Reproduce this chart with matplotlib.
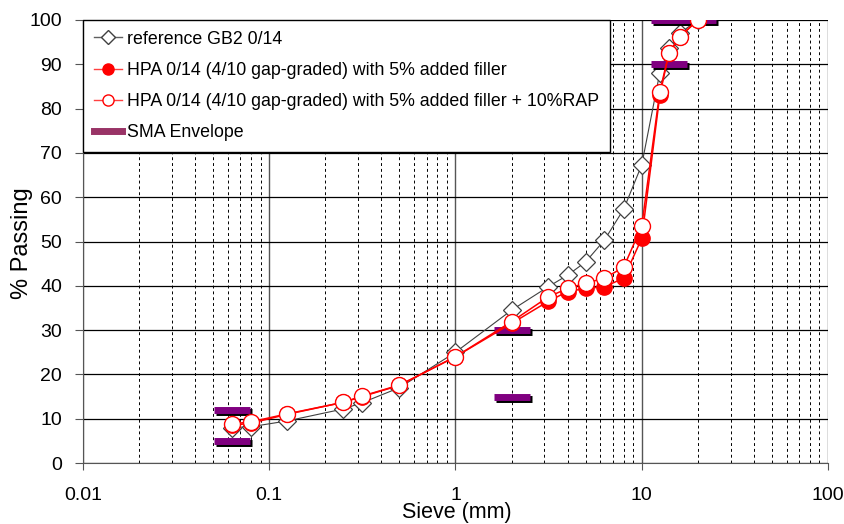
import numpy as np
import matplotlib
matplotlib.use('Agg')
from matplotlib import pyplot as plt
from matplotlib import ticker
from matplotlib import patheffects as pe
from matplotlib.lines import Line2D

plt.rcParams['font.family'] = ['Liberation Sans', 'DejaVu Sans']

# sieve sizes in mm
sieve = [0.063, 0.08, 0.125, 0.25, 0.315, 0.5, 1, 2, 3.15, 4, 5, 6.3, 8, 10, 12.5, 14, 16, 20]
ref_gb2 = [8, 8.2, 9.5, 12.2, 13.6, 17, 25, 34.5, 39.8, 42.4, 45.4, 50.3, 57.3, 67.3, 88.1, 93.6, 97, 100]
hpa = [8.5, 9, 11, 13.7, 15, 17.5, 24, 31.5, 36.5, 38.7, 39.4, 39.8, 41.7, 50.7, 83, 92.5, 96.2, 100]
hpa_rap = [8.8, 9.3, 11.1, 13.7, 15.1, 17.6, 24, 31.9, 37.5, 39.4, 40.6, 41.7, 44.2, 53.5, 83.8, 92.6, 96.2, 100]

# SMA envelope limits
env_sieve = [0.063, 0.063, 2, 2, 14, 14, 20]
env_pass = [5, 12, 15, 30, 90, 100, 100]

x_ticks = [0.01, 0.1, 1, 10, 100]
x_labels = ['0.01', '0.1', '1', '10', '100']
y_ticks = list(range(0, 101, 10))

fig = plt.figure(figsize=(8.45, 5.24), dpi=100)
ax = fig.add_axes([83/845, 1-463/524, 745/845, 443/524])

ax.plot(sieve, ref_gb2, color='#404040', lw=0.8, marker='D', ms=9,
        mfc='white', mec='#404040', mew=0.9, zorder=3)
ax.plot(env_sieve, env_pass, ls='none', marker='_', ms=26, mew=5,
        color='#800080', zorder=4,
        path_effects=[pe.SimpleLineShadow(offset=(1.5, -1.5), shadow_color='black', alpha=1),
                      pe.Normal()])
ax.plot(sieve, hpa, color='red', lw=1.1, marker='o', ms=11,
        mfc='red', mec='red', mew=1, zorder=5)
ax.plot(sieve, hpa_rap, color='red', lw=1.1, marker='o', ms=11.5,
        mfc='white', mec='red', mew=1, zorder=6)

ax.set_xscale('log')
ax.set_xlim(0.01, 100)
ax.set_ylim(0, 100)
ax.xaxis.set_major_locator(ticker.FixedLocator(x_ticks))
ax.xaxis.set_major_formatter(ticker.FixedFormatter(x_labels))
ax.xaxis.set_minor_locator(ticker.LogLocator(base=10, subs=np.arange(2, 10)))
ax.xaxis.set_minor_formatter(ticker.NullFormatter())
ax.set_yticks(y_ticks)

ax.grid(True, which='major', axis='y', color='black', lw=0.9)
ax.grid(True, which='major', axis='x', color='#555555', lw=1)
ax.grid(True, which='minor', axis='x', color='black', lw=0.7, ls=(0, (3, 3)))
ax.set_axisbelow(True)

for s in ['top', 'right']:
    ax.spines[s].set_visible(False)
for s in ['left', 'bottom']:
    ax.spines[s].set_color('#555555')

ax.tick_params(axis='x', which='major', direction='out', length=5, pad=12, labelsize=14, color='#555555')
ax.tick_params(axis='x', which='minor', length=0)
ax.tick_params(axis='y', direction='out', length=6, pad=9, labelsize=14, color='#555555')

fig.text(457/845, 1-502/524, 'Sieve (mm)', ha='center', va='top', fontsize=15.5)
fig.text(22/845, 1-243/524, '% Passing', ha='center', va='center', rotation=90, fontsize=17)

handles = [
    Line2D([], [], color='#606060', lw=1, marker='D', ms=7, mfc='white', mec='#404040'),
    Line2D([], [], color='#ff4040', lw=1, marker='o', ms=8, mfc='red', mec='red'),
    Line2D([], [], color='#ff4040', lw=1, marker='o', ms=8, mfc='white', mec='red'),
    Line2D([], [], color='#993366', lw=5),
]
labels = ['reference GB2 0/14',
          'HPA 0/14 (4/10 gap-graded) with 5% added filler',
          'HPA 0/14 (4/10 gap-graded) with 5% added filler + 10%RAP',
          'SMA Envelope']
leg = ax.legend(handles, labels, loc='upper left', bbox_to_anchor=(0, 1), borderaxespad=0,
                fontsize=12.8, fancybox=False, framealpha=1, edgecolor='black',
                handlelength=1.6, handletextpad=0.3, labelspacing=0.8, borderpad=0.6)
leg.get_frame().set_linewidth(1)
leg.set_zorder(10)

plt.savefig('out.png', dpi=100)
